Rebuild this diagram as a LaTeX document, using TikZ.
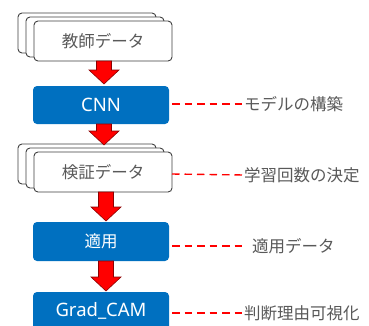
\documentclass[tikz,border=0pt]{standalone}
\usepackage{fontspec}
\setmainfont{Noto Sans CJK JP}
\newfontfamily\latinfont{Noto Sans}
\definecolor{boxblue}{HTML}{0070C0}
\definecolor{txtgray}{HTML}{595959}
\definecolor{arrowred}{HTML}{FF0000}
\definecolor{arrowedge}{HTML}{8B0000}
\tikzset{
  x={(1pt,0)}, y={(0,-1pt)},
  databox/.style={draw=black!75, line width=0.9pt, fill=white, rounded corners=4pt},
  datatext/.style={text=txtgray, font=\fontsize{16.5}{18}\selectfont},
  bluebox/.style={fill=boxblue, rounded corners=4pt},
  bluetext/.style={text=white, font=\fontsize{16.5}{18}\selectfont},
  bluelatin/.style={text=white, font=\latinfont\fontsize{18.5}{20}\selectfont},
  label/.style={text=txtgray, font=\fontsize{16.5}{18}\selectfont, anchor=west, inner sep=0pt},
  dashline/.style={draw=arrowred, line width=1.4pt, dash pattern=on 7.5pt off 5pt},
  flowarrow/.style={fill=arrowred, draw=arrowedge, line width=0.6pt, line join=miter},
  pics/flowarr/.style={code={
    \path[flowarrow] (-7.5,0) -- (7.5,0) -- (7.5,#1-14) -- (15,#1-14) -- (0,#1)
      -- (-15,#1-14) -- (-7.5,#1-14) -- cycle;}}
}
\begin{document}
\begin{tikzpicture}
\clip (0,0) rectangle (369,325);
\fill[white] (0,0) rectangle (369,325);
% stack 1
\draw[databox] (18,13) rectangle (156,53);
\draw[databox] (26,17) rectangle (164,57);
\draw[databox] (34,21) rectangle (172,61);
\node[datatext] (teacher) at (103,41) {教師データ};
% CNN
\fill[bluebox] (33,86) rectangle (169,124);
\node[bluelatin] (cnn) at (101,105) {CNN};
% stack 2
\draw[databox] (18,144) rectangle (156,184);
\draw[databox] (26,148) rectangle (164,188);
\draw[databox] (34,152) rectangle (172,192);
\node[datatext] (verify) at (103,172) {検証データ};
% apply
\fill[bluebox] (33,222) rectangle (169,261);
\node[bluetext] (apply) at (101,241.5) {適用};
% gradcam
\fill[bluebox] (33,292) rectangle (169,332);
\node[bluelatin] (grad) at (101,311) {Grad\_CAM};
% arrows
\pic at (104,61) {flowarr=23};
\pic at (104,124) {flowarr=21};
\pic at (106,192) {flowarr=29};
\pic at (106,261) {flowarr=30};
% labels
\node[label] (l1) at (244,104) {モデルの構築};
\node[label] (l2) at (244,175) {学習回数の決定};
\node[label] (l3) at (252,246) {適用データ};
\node[label] (l4) at (244,313) {判断理由可視化};
\coordinate (d1) at (172,104);
\coordinate (d2) at (172,174);
\coordinate (d3) at (172,246);
\coordinate (d4) at (172,313);
\coordinate (e3) at (243,246);
\draw[dashline] (d1) -- (l1.west);
\draw[dashline] (d2) -- (l2.west);
\draw[dashline] (d3) -- (e3);
\draw[dashline] (d4) -- (l4.west);
\end{tikzpicture}
\end{document}
